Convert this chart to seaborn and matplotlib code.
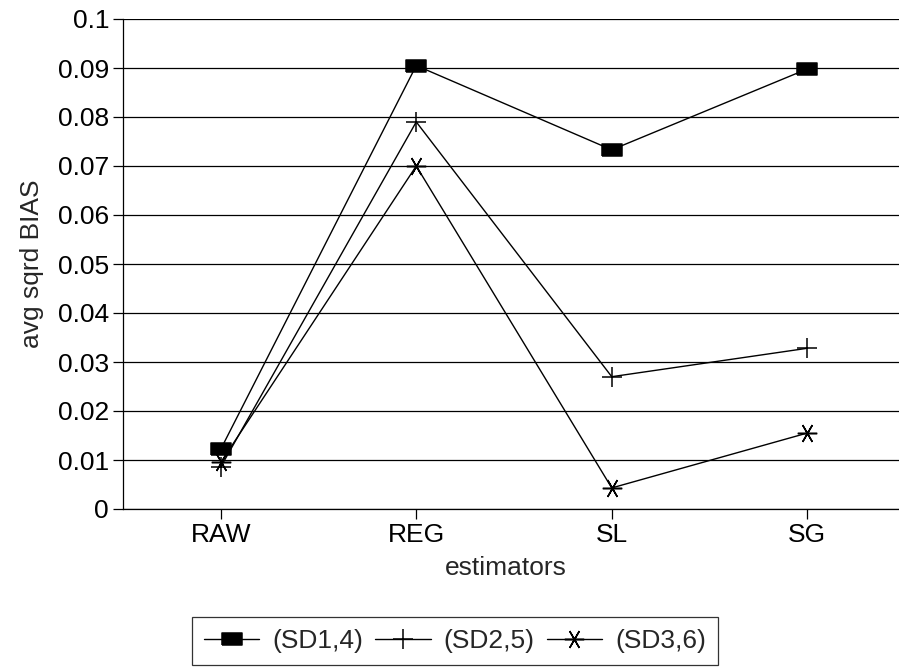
import pandas as pd
import seaborn as sns
import matplotlib
matplotlib.use("Agg")
import matplotlib.pyplot as plt

# valores
estimadores = ["RAW", "REG", "SL", "SG"]
sd14 = [0.0122, 0.0905, 0.0733, 0.0898]
sd25 = [0.0086, 0.0790, 0.0270, 0.0328]
sd36 = [0.0095, 0.0700, 0.0043, 0.0155]
series = ["(SD1,4)", "(SD2,5)", "(SD3,6)"]
yticks = [0, 0.01, 0.02, 0.03, 0.04, 0.05, 0.06, 0.07, 0.08, 0.09, 0.1]
ytick_labels = ["0", "0.01", "0.02", "0.03", "0.04", "0.05", "0.06", "0.07", "0.08", "0.09", "0.1"]

tabela = pd.DataFrame({
    "estimators": estimadores * 3,
    "valor": sd14 + sd25 + sd36,
    "serie": [series[0]] * 4 + [series[1]] * 4 + [series[2]] * 4,
})

sns.set_style("white")
plt.rcParams["font.family"] = ["Liberation Sans", "DejaVu Sans"]

fig = plt.figure(figsize=(8.99, 6.68), dpi=100)
ax = fig.add_axes([123 / 899, 1 - 509 / 668, (905 - 123) / 899, (509 - 19) / 668])

# marcadores: retangulo cheio, cruz, asterisco (um lineplot por serie)
retangulo = [(-1.0, -0.62), (1.0, -0.62), (1.0, 0.62), (-1.0, 0.62), (-1.0, -0.62)]
marcadores = {series[0]: retangulo, series[1]: "+", series[2]: (6, 2, 90)}
tamanhos = {series[0]: 14, series[1]: 14, series[2]: 14}
for s in series:
    sns.lineplot(data=tabela[tabela["serie"] == s], x="estimators", y="valor",
                 color="black", marker=marcadores[s], markersize=tamanhos[s],
                 markeredgecolor="black", markeredgewidth=1.1,
                 sort=False, linewidth=1.0, label=s, ax=ax)

ax.set_xlim(-0.5, 3.5)
ax.set_ylim(0, 0.1)
ax.set_yticks(yticks)
ax.set_yticklabels(ytick_labels)
ax.yaxis.grid(True, color="black", linewidth=0.9)
ax.xaxis.grid(False)
sns.despine(ax=ax, top=True, right=True)
for sp in ["left", "bottom"]:
    ax.spines[sp].set_color("black")
    ax.spines[sp].set_linewidth(0.9)
ax.tick_params(axis="both", direction="out", length=7, width=0.9, colors="black",
               labelsize=19, left=True, bottom=True, pad=3)
ax.set_xlabel("estimators", fontsize=19, labelpad=6)
ax.xaxis.set_label_coords(0.49, -0.095)
ax.set_ylabel("avg sqrd BIAS", fontsize=19, labelpad=10)

handles, labels = ax.get_legend_handles_labels()
ax.get_legend().remove()
leg = fig.legend(handles, labels, loc="upper left", bbox_to_anchor=(192 / 899, 1 - 617 / 668),
                 ncol=3, frameon=True, fancybox=False, fontsize=19, handlelength=2.1,
                 handletextpad=0.5, columnspacing=0.45, borderpad=0.45, borderaxespad=0)
leg.get_frame().set_edgecolor("black")
leg.get_frame().set_linewidth(0.9)

fig.savefig("out.png", dpi=100)
